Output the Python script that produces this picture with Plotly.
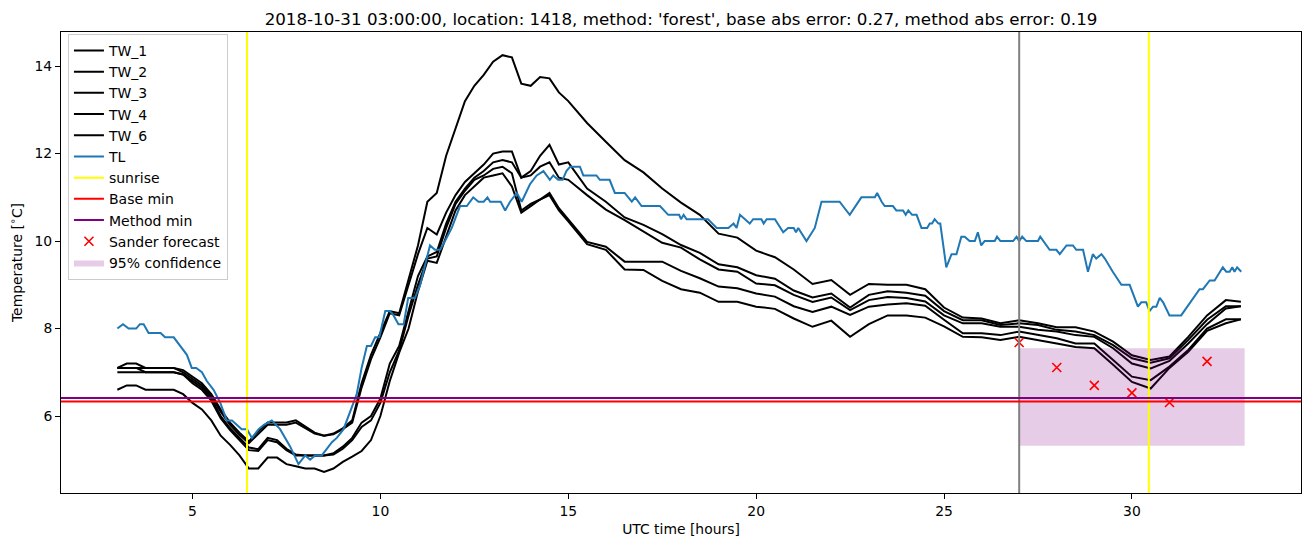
import plotly.graph_objects as go

title = ("2018-10-31 03:00:00, location: 1418, method: 'forest', "
         "base abs error: 0.27, method abs error: 0.19")

# ---------------- data ----------------
t_tw = [3.0, 3.25, 3.5, 3.75, 4.0, 4.25, 4.5, 4.75, 5.0, 5.25, 5.5, 5.75,
        6.0, 6.25, 6.5, 6.75, 7.0, 7.25, 7.5, 7.75, 8.0, 8.25, 8.5, 8.75,
        9.0, 9.25, 9.5, 9.75, 10.0, 10.25, 10.5, 10.75, 11.0, 11.25, 11.5, 11.75,
        12.0, 12.25, 12.5, 12.75, 13.0, 13.25, 13.5, 13.75, 14.0, 14.25, 14.5, 14.75,
        15.0, 15.5, 16.0, 16.5, 17.0, 17.5, 18.0, 18.5, 19.0, 19.5, 20.0, 20.5,
        21.0, 21.5, 22.0, 22.5, 23.0, 23.5, 24.0, 24.5, 25.0, 25.5, 26.0, 26.5,
        27.0, 27.5, 28.0, 28.5, 29.0, 29.5, 30.0, 30.5, 31.0, 31.5, 32.0, 32.5, 32.9]

tw_1 = [7.1, 7.2, 7.2, 7.1, 7.1, 7.1, 7.1, 7.05, 6.9, 6.75, 6.5, 6.15,
        5.85, 5.62, 5.42, 5.65, 5.85, 5.85, 5.85, 5.9, 5.75, 5.62, 5.55, 5.6,
        5.72, 5.9, 6.75, 7.4, 7.9, 8.4, 8.35, 9.1, 9.9, 10.9, 11.1, 11.95,
        12.6, 13.2, 13.55, 13.8, 14.1, 14.25, 14.2, 13.6, 13.55, 13.75, 13.72, 13.4,
        13.2, 12.7, 12.27, 11.85, 11.57, 11.2, 10.88, 10.6, 10.17, 10.08, 9.78, 9.63,
        9.35, 9.02, 9.11, 8.77, 9.02, 9.0, 9.0, 8.9, 8.48, 8.25, 8.23, 8.12,
        8.19, 8.12, 8.03, 8.03, 7.93, 7.7, 7.39, 7.28, 7.36, 7.81, 8.3, 8.65, 8.61]
tw_2 = [7.1, 7.1, 7.1, 7.1, 7.1, 7.1, 7.1, 7.0, 6.85, 6.7, 6.45, 6.1,
        5.8, 5.57, 5.38, 5.6, 5.8, 5.8, 5.8, 5.85, 5.72, 5.6, 5.55, 5.58,
        5.7, 5.85, 6.65, 7.3, 7.8, 8.35, 8.3, 9.0, 9.7, 10.3, 10.15, 10.65,
        11.05, 11.35, 11.55, 11.75, 12.0, 12.05, 12.05, 11.45, 11.6, 11.95, 12.2, 11.75,
        11.8, 11.2, 10.9, 10.54, 10.37, 10.16, 9.91, 9.73, 9.47, 9.4, 9.22, 9.14,
        8.87, 8.71, 8.8, 8.48, 8.77, 8.85, 8.82, 8.75, 8.4, 8.19, 8.19, 8.08,
        8.12, 8.08, 7.97, 7.93, 7.85, 7.62, 7.32, 7.22, 7.32, 7.74, 8.2, 8.51, 8.51]
tw_3 = [7.1, 7.1, 7.1, 7.0, 7.0, 7.0, 7.0, 6.95, 6.8, 6.65, 6.4, 6.0,
        5.72, 5.5, 5.28, 5.24, 5.5, 5.45, 5.25, 5.12, 5.1, 5.1, 5.1, 5.15,
        5.3, 5.5, 5.85, 6.0, 6.4, 7.2, 7.6, 8.4, 9.2, 9.65, 9.75, 10.4,
        10.9, 11.2, 11.45, 11.6, 11.8, 11.85, 11.8, 11.45, 11.5, 11.7, 11.8, 11.45,
        11.4, 11.05, 10.72, 10.48, 10.21, 9.96, 9.85, 9.58, 9.35, 9.3, 9.03, 8.99,
        8.77, 8.61, 8.71, 8.42, 8.65, 8.72, 8.7, 8.62, 8.3, 8.12, 8.12, 8.04,
        8.04, 7.97, 7.93, 7.85, 7.81, 7.55, 7.2, 7.09, 7.26, 7.66, 8.1, 8.46, 8.51]
tw_4 = [7.0, 7.0, 7.0, 7.0, 7.0, 7.0, 7.0, 6.95, 6.75, 6.6, 6.35, 5.95,
        5.68, 5.45, 5.22, 5.2, 5.45, 5.4, 5.22, 5.1, 5.1, 5.1, 5.1, 5.12,
        5.25, 5.45, 5.75, 5.9, 6.3, 7.0, 7.5, 8.3, 9.0, 9.6, 9.65, 10.3,
        10.85, 11.15, 11.4, 11.5, 11.65, 11.7, 11.55, 10.7, 10.85, 10.95, 11.1, 10.75,
        10.5, 9.98, 9.87, 9.53, 9.53, 9.53, 9.32, 9.15, 8.96, 8.92, 8.8, 8.73,
        8.51, 8.38, 8.5, 8.31, 8.5, 8.55, 8.58, 8.52, 8.2, 7.89, 7.89, 7.85,
        7.93, 7.85, 7.78, 7.66, 7.66, 7.28, 6.9, 6.82, 7.13, 7.51, 8.0, 8.21, 8.21]
tw_6 = [6.6, 6.7, 6.7, 6.6, 6.6, 6.6, 6.6, 6.5, 6.3, 6.15, 5.9, 5.55,
        5.34, 5.1, 4.8, 4.8, 5.05, 5.05, 4.9, 4.85, 4.8, 4.8, 4.72, 4.8,
        4.95, 5.07, 5.2, 5.45, 6.0, 6.8, 7.45, 8.0, 8.85, 9.55, 9.5, 10.1,
        10.7, 11.05, 11.25, 11.45, 11.5, 11.55, 11.25, 10.65, 10.8, 10.95, 11.05, 10.7,
        10.45, 9.93, 9.8, 9.35, 9.34, 9.09, 8.9, 8.82, 8.61, 8.61, 8.5, 8.45,
        8.23, 8.04, 8.18, 7.81, 8.1, 8.3, 8.3, 8.25, 8.05, 7.81, 7.8, 7.74,
        7.81, 7.74, 7.66, 7.58, 7.55, 7.17, 6.78, 6.63, 7.1, 7.47, 7.95, 8.12, 8.21]

t_tl = [3.0, 3.15, 3.3, 3.5, 3.6, 3.7, 3.83, 4.15, 4.27, 4.5, 4.85, 4.98, 5.1, 5.25,
        5.38, 5.56, 5.74, 5.91, 6.05, 6.31, 6.45, 6.58, 6.76, 6.9, 7.11, 7.33, 7.6,
        7.82, 8.0, 8.13, 8.26, 8.44, 8.71, 8.84, 9.02, 9.24, 9.37, 9.5, 9.64, 9.75,
        9.86, 9.97, 10.13, 10.25, 10.35, 10.48, 10.62, 10.74, 10.92, 11.06, 11.23,
        11.32, 11.45, 11.59, 11.72, 11.9, 12.03, 12.12, 12.3, 12.47, 12.61, 12.75,
        12.85, 12.92, 13.1, 13.2, 13.32, 13.45, 13.63, 13.76, 13.98, 14.16, 14.34,
        14.51, 14.6, 14.73, 14.85, 14.95, 15.05, 15.31, 15.4, 15.75, 15.84, 16.1,
        16.24, 16.5, 16.69, 16.78, 16.95, 17.44, 17.66, 17.95, 18.0, 18.07, 18.15,
        18.72, 18.95, 19.26, 19.4, 19.48, 19.57, 19.7, 19.83, 19.92, 20.14, 20.2,
        20.28, 20.5, 20.72, 20.85, 21.0, 21.06, 21.12, 21.34, 21.56, 21.74, 22.22,
        22.49, 22.8, 23.16, 23.22, 23.34, 23.42, 23.64, 23.73, 23.91, 23.98, 24.05,
        24.15, 24.27, 24.4, 24.55, 24.62, 24.68, 24.75, 24.85, 24.9, 25.06, 25.2,
        25.33, 25.46, 25.55, 25.68, 25.82, 25.9, 25.99, 26.08, 26.35, 26.41, 26.5,
        26.84, 26.93, 27.0, 27.08, 27.19, 27.5, 27.56, 27.81, 27.99, 28.08, 28.26,
        28.43, 28.52, 28.7, 28.83, 28.96, 29.05, 29.19, 29.28, 29.49, 29.72, 29.94,
        30.16, 30.25, 30.38, 30.47, 30.56, 30.65, 30.74, 30.83, 31.0, 31.31, 31.8,
        31.89, 32.07, 32.2, 32.42, 32.51, 32.6, 32.67, 32.73, 32.8, 32.91]
tl = [8.0, 8.1, 8.0, 8.0, 8.1, 8.1, 7.9, 7.9, 7.8, 7.8, 7.4, 7.1, 7.1, 7.0,
      6.8, 6.6, 6.3, 5.9, 5.9, 5.7, 5.7, 5.5, 5.7, 5.8, 5.9, 5.7, 5.3,
      4.9, 5.1, 5.0, 5.1, 5.1, 5.4, 5.5, 5.7, 6.2, 6.5, 7.1, 7.6, 7.6,
      7.8, 7.8, 8.4, 8.4, 8.3, 8.1, 8.1, 8.7, 8.7, 9.0, 9.6,
      9.9, 9.8, 9.8, 10.0, 10.3, 10.6, 10.8, 10.8, 11.0, 10.9, 10.9,
      11.0, 10.9, 10.9, 10.9, 10.7, 10.9, 11.1, 10.9, 11.3, 11.5, 11.6,
      11.4, 11.5, 11.4, 11.4, 11.6, 11.7, 11.7, 11.5, 11.5, 11.4, 11.4,
      11.1, 11.1, 10.9, 11.0, 10.8, 10.8, 10.6, 10.6, 10.5, 10.6, 10.5,
      10.5, 10.3, 10.3, 10.4, 10.3, 10.6, 10.5, 10.4, 10.5, 10.5, 10.4,
      10.5, 10.5, 10.2, 10.3, 10.3, 10.2, 10.3, 10.0, 10.3, 10.9, 10.9,
      10.6, 11.0, 11.0, 11.1, 10.9, 10.8, 10.8, 10.7, 10.7, 10.6, 10.7,
      10.6, 10.6, 10.3, 10.3, 10.4, 10.4, 10.5, 10.4, 10.4, 9.4, 9.7,
      9.7, 10.1, 10.1, 10.0, 10.0, 10.2, 9.9, 10.0, 10.0, 10.1, 10.0,
      10.0, 10.1, 10.0, 10.1, 10.0, 10.0, 10.1, 9.8, 9.8, 9.7, 9.9,
      9.9, 9.8, 9.8, 9.3, 9.7, 9.6, 9.7, 9.6, 9.3, 9.0, 9.0,
      8.5, 8.6, 8.6, 8.4, 8.5, 8.5, 8.7, 8.6, 8.3, 8.3, 8.9,
      8.9, 9.1, 9.1, 9.4, 9.3, 9.3, 9.4, 9.3, 9.4, 9.3]

sunrise = [6.45, 30.45]
forecast_start = 27.0
base_min = 6.33
method_min = 6.41
fc_t = [27, 28, 29, 30, 31, 32]
fc = [7.68, 7.11, 6.70, 6.53, 6.31, 7.25]
conf_t = [27.0, 33.0]
conf_y = [5.32, 7.55]

x_ticks = [5, 10, 15, 20, 25, 30]
y_ticks = [6, 8, 10, 12, 14]
x_range = [1.5, 34.5]
y_range = [4.24, 14.78]

# ---------------- figure ----------------
FONT = "DejaVu Sans"
fig = go.Figure()

rank = 1
for name, vals in [("TW_1", tw_1), ("TW_2", tw_2), ("TW_3", tw_3),
                   ("TW_4", tw_4), ("TW_6", tw_6)]:
    fig.add_trace(go.Scatter(x=t_tw, y=vals, mode="lines", name=name,
                             line=dict(color="black", width=2),
                             legendrank=rank))
    rank += 1

fig.add_trace(go.Scatter(x=t_tl, y=tl, mode="lines", name="TL",
                         line=dict(color="#1f77b4", width=2), legendrank=6))

for name, col, r in [("sunrise", "yellow", 7), ("Base min", "red", 8),
                     ("Method min", "purple", 9)]:
    fig.add_trace(go.Scatter(x=[None], y=[None], mode="lines", name=name,
                             line=dict(color=col, width=2), legendrank=r))

fig.add_trace(go.Scatter(
    x=[conf_t[0], conf_t[1], conf_t[1], conf_t[0], conf_t[0]],
    y=[conf_y[0], conf_y[0], conf_y[1], conf_y[1], conf_y[0]],
    mode="lines", fill="toself", fillcolor="rgba(128,0,128,0.2)",
    line=dict(width=0, color="rgba(128,0,128,0.2)"),
    name="95% confidence", legendrank=11))

fig.add_trace(go.Scatter(x=fc_t, y=fc, mode="markers", name="Sander forecast",
                         marker=dict(symbol="x-thin", size=9, color="red",
                                     line=dict(width=1.6, color="red")),
                         legendrank=10))

shapes = []
for s in sunrise:
    shapes.append(dict(type="line", xref="x", yref="paper", x0=s, x1=s, y0=0, y1=1,
                       line=dict(color="yellow", width=2)))
shapes.append(dict(type="line", xref="x", yref="paper", x0=forecast_start,
                   x1=forecast_start, y0=0, y1=1, line=dict(color="gray", width=2)))
shapes.append(dict(type="line", xref="paper", yref="y", x0=0, x1=1, y0=base_min,
                   y1=base_min, line=dict(color="red", width=2)))
shapes.append(dict(type="line", xref="paper", yref="y", x0=0, x1=1, y0=method_min,
                   y1=method_min, line=dict(color="purple", width=2)))

fig.update_layout(
    width=1310, height=547,
    margin=dict(l=61, r=9, t=32, b=54),
    paper_bgcolor="white", plot_bgcolor="white",
    font=dict(family=FONT, size=14, color="black"),
    title=dict(text=title, x=0.5, xref="paper", xanchor="center",
               y=1, yref="paper", yanchor="bottom", pad=dict(b=7),
               font=dict(family=FONT, size=16.7, color="black")),
    shapes=shapes,
    showlegend=True,
    legend=dict(x=0.0056, y=0.996, xanchor="left", yanchor="top",
                bgcolor="rgba(255,255,255,0.8)", bordercolor="#cccccc",
                borderwidth=1, font=dict(family=FONT, size=14),
                itemwidth=30, tracegroupgap=0),
    xaxis=dict(range=x_range, tickvals=x_ticks, ticks="outside", ticklen=5,
               tickwidth=1, tickcolor="black", showline=True, linecolor="black",
               linewidth=1, mirror=True, showgrid=False, zeroline=False,
               automargin=False,
               tickfont=dict(family=FONT, size=13.9),
               title=dict(text="UTC time [hours]", standoff=6,
                          font=dict(family=FONT, size=13.9))),
    yaxis=dict(range=y_range, tickvals=y_ticks, ticks="outside", ticklen=5,
               tickwidth=1, tickcolor="black", showline=True, linecolor="black",
               linewidth=1, mirror=True, showgrid=False, zeroline=False,
               automargin=False,
               tickfont=dict(family=FONT, size=13.9),
               title=dict(text="Temperature [<sup>∘</sup>C]", standoff=8,
                          font=dict(family=FONT, size=13.9))),
)

fig.write_html("out.html",
               config={"displayModeBar": False},
               post_script="document.body.style.margin='0';"
                           "document.body.style.overflow='hidden';")
